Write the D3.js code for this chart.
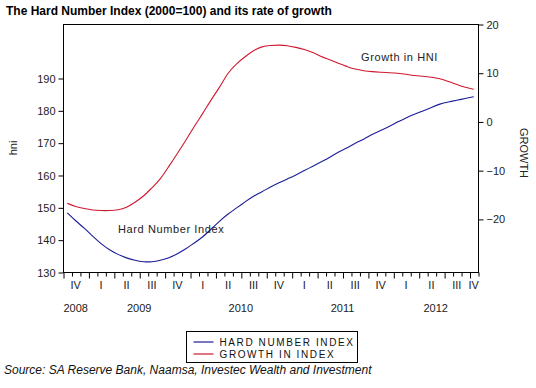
<!DOCTYPE html>
<html>
<head>
<meta charset="utf-8">
<script src="https://cdn.jsdelivr.net/npm/d3@7"></script>
<style>
  html, body { margin: 0; padding: 0; background: #fff; overflow: hidden; }
  svg { display: block; }
  svg text { font-family: "Liberation Sans", Arial, sans-serif; }
</style>
</head>
<body>
<svg id="canvas"></svg>
<script>
// monthly observations, Oct 2008 .. Oct 2012
const months = d3.range(49).map(i => {
    const m = 9 + i;
    return `${2008 + Math.floor(m / 12)}-${String(m % 12 + 1).padStart(2, "0")}`;
});
const hni = [148.3, 145.8, 143.6, 141.1, 138.7, 136.8, 135.4, 134.3, 133.6, 133.1,
    133.1, 133.6, 134.3, 135.6, 137.1, 139.0, 140.8, 143.3, 145.8, 148.0,
    149.8, 151.7, 153.5, 154.8, 156.3, 157.6, 158.8, 160.0, 161.4, 162.7,
    164.1, 165.4, 167.2, 168.2, 169.9, 171.0, 172.6, 173.8, 175.0, 176.4,
    177.7, 178.8, 179.8, 180.9, 182.0, 182.6, 183.1, 183.7, 184.2];
const growth = [-16.8, -17.5, -17.9, -18.2, -18.3, -18.3, -18.2, -17.7, -16.6, -15.4,
    -13.6, -11.9, -9.2, -6.6, -3.9, -1.0, 1.6, 4.5, 7.0, 10.1,
    11.9, 13.3, 14.6, 15.4, 15.6, 15.7, 15.6, 15.2, 14.8, 14.2,
    13.3, 12.7, 11.9, 11.3, 10.7, 10.4, 10.2, 10.1, 10.0, 9.9,
    9.7, 9.4, 9.3, 9.1, 8.8, 8.2, 7.6, 7.0, 6.6];

const quarterLabels = ["IV", "I", "II", "III", "IV", "I", "II", "III", "IV",
    "I", "II", "III", "IV", "I", "II", "III", "IV"];
const yearLabels = ["2008", "2009", "2010", "2011", "2012"];
const leftTicks = [130, 140, 150, 160, 170, 180, 190];
const rightTicks = [-20, -10, 0, 10, 20];

const width = 536;
const height = 388;
const margin = {top: 24, right: 58, bottom: 116, left: 63};
const innerWidth = width - margin.left - margin.right;
const innerHeight = height - margin.top - margin.bottom;
const blue = "#1c1c9a";
const red = "#d01830";
const font = "Liberation Sans, Arial, sans-serif";

const svg = d3.select("#canvas").attr("width", width).attr("height", height);

const xScale = d3.scaleLinear().domain([0, months.length]).range([margin.left, margin.left + innerWidth]);
const yLeft = d3.scaleLinear().domain([130, 206.7]).range([margin.top + innerHeight, margin.top]);
const yRight = d3.scaleLinear().domain([-30.9, 20]).range([margin.top + innerHeight, margin.top]);

// title
svg.append("text")
    .attr("x", 6).attr("y", 15)
    .style("font-size", "12px").style("font-weight", "bold")
    .text("The Hard Number Index (2000=100) and its rate of growth");

// frame
svg.append("rect")
    .attr("x", margin.left + 0.5).attr("y", margin.top + 0.5)
    .attr("width", innerWidth).attr("height", innerHeight)
    .attr("fill", "none").attr("stroke", "black");

// left axis
const leftGroup = svg.append("g").attr("transform", `translate(${margin.left + 0.5}, 0.5)`)
    .attr("font-family", font)
    .call(d3.axisLeft(yLeft).tickValues(leftTicks).tickSize(5).tickPadding(3).tickSizeOuter(0))
    .call(g => g.select(".domain").remove());
leftGroup.selectAll("text").style("font-size", "11px").attr("fill", "#222");

// right axis
const rightGroup = svg.append("g").attr("transform", `translate(${margin.left + innerWidth + 0.5}, 0.5)`)
    .attr("font-family", font)
    .call(d3.axisRight(yRight).tickValues(rightTicks).tickSize(5).tickPadding(3).tickSizeOuter(0))
    .call(g => g.select(".domain").remove());
rightGroup.selectAll("text").style("font-size", "11px").attr("fill", "#222");

// bottom axis: monthly minor ticks, quarterly major ticks
const xGroup = svg.append("g").attr("transform", `translate(0.5, ${margin.top + innerHeight + 0.5})`)
    .call(d3.axisBottom(xScale).tickValues(d3.range(0, months.length + 1)).tickFormat("").tickSizeOuter(0))
    .call(g => g.select(".domain").remove())
    .call(g => g.selectAll(".tick text").remove());
xGroup.selectAll(".tick line").attr("y2", (d) => d % 3 === 0 ? 6 : 4);

// quarter labels centred on the months that fall in the range
const quarterCenters = quarterLabels.map((q, k) => {
    const start = k * 3;
    const end = Math.min(start + 3, months.length);
    return (start + end) / 2;
});
svg.append("g").selectAll("text")
    .data(quarterLabels)
    .join("text")
    .attr("x", (d, k) => xScale(quarterCenters[k]))
    .attr("y", margin.top + innerHeight + 17)
    .attr("text-anchor", "middle")
    .style("font-size", "11px").attr("fill", "#222")
    .text(d => d);

const yearCenters = yearLabels.map(y => {
    const idx = months.map((m, i) => [m, i]).filter(d => d[0].startsWith(y)).map(d => d[1]);
    return (d3.min(idx) + d3.max(idx) + 1) / 2;
});
svg.append("g").selectAll("text")
    .data(yearLabels)
    .join("text")
    .attr("x", (d, k) => xScale(yearCenters[k]))
    .attr("y", margin.top + innerHeight + 40)
    .attr("text-anchor", "middle")
    .style("font-size", "11px").attr("fill", "#222")
    .text(d => d);

// axis titles
svg.append("text")
    .attr("transform", `translate(17, ${margin.top + innerHeight / 2}) rotate(-90)`)
    .attr("text-anchor", "middle")
    .style("font-size", "11px").attr("fill", "#222")
    .text("hni");
svg.append("text")
    .attr("transform", `translate(520, ${margin.top + innerHeight / 2 + 5}) rotate(90)`)
    .attr("text-anchor", "middle")
    .style("font-size", "11px").attr("fill", "#222")
    .text("GROWTH");

// lines
const lineLeft = d3.line().x((d, i) => xScale(i + 0.5)).y(d => yLeft(d)).curve(d3.curveBasis);
const lineRight = d3.line().x((d, i) => xScale(i + 0.5)).y(d => yRight(d)).curve(d3.curveBasis);

svg.append("path").datum(hni)
    .attr("d", lineLeft).attr("fill", "none").attr("stroke", blue).attr("stroke-width", 1.1);
svg.append("path").datum(growth)
    .attr("d", lineRight).attr("fill", "none").attr("stroke", red).attr("stroke-width", 1.1);

// in-plot annotations
svg.append("text")
    .attr("x", xScale(35.2)).attr("y", 61)
    .style("font-size", "11px").style("letter-spacing", "0.6px").attr("fill", "#222")
    .text("Growth in HNI");
svg.append("text")
    .attr("x", xScale(6.5)).attr("y", 233)
    .style("font-size", "11px").style("letter-spacing", "0.6px").attr("fill", "#222")
    .text("Hard Number Index");

// legend
const legend = svg.append("g").attr("transform", "translate(186.5, 331.5)");
legend.append("rect").attr("width", 171).attr("height", 31)
    .attr("fill", "white").attr("stroke", "black");
const legendLabels = ["HARD NUMBER INDEX", "GROWTH IN INDEX"];
const legendColors = [blue, red];
legend.selectAll("line.key")
    .data(legendLabels)
    .join("line")
    .attr("class", "key")
    .attr("x1", 7).attr("x2", 27)
    .attr("y1", (d, k) => 10.5 + k * 12).attr("y2", (d, k) => 10.5 + k * 12)
    .attr("stroke", (d, k) => legendColors[k]).attr("stroke-width", 1.2);
legend.selectAll("text")
    .data(legendLabels)
    .join("text")
    .attr("x", 33).attr("y", (d, k) => 14 + k * 12)
    .style("font-size", "10px").style("letter-spacing", "1.6px").attr("fill", "#111")
    .text(d => d);

// source
svg.append("text")
    .attr("x", 4).attr("y", 374)
    .style("font-size", "12px").style("font-style", "italic").attr("fill", "#111")
    .text("Source: SA Reserve Bank, Naamsa, Investec Wealth and Investment");
</script>
</body>
</html>
